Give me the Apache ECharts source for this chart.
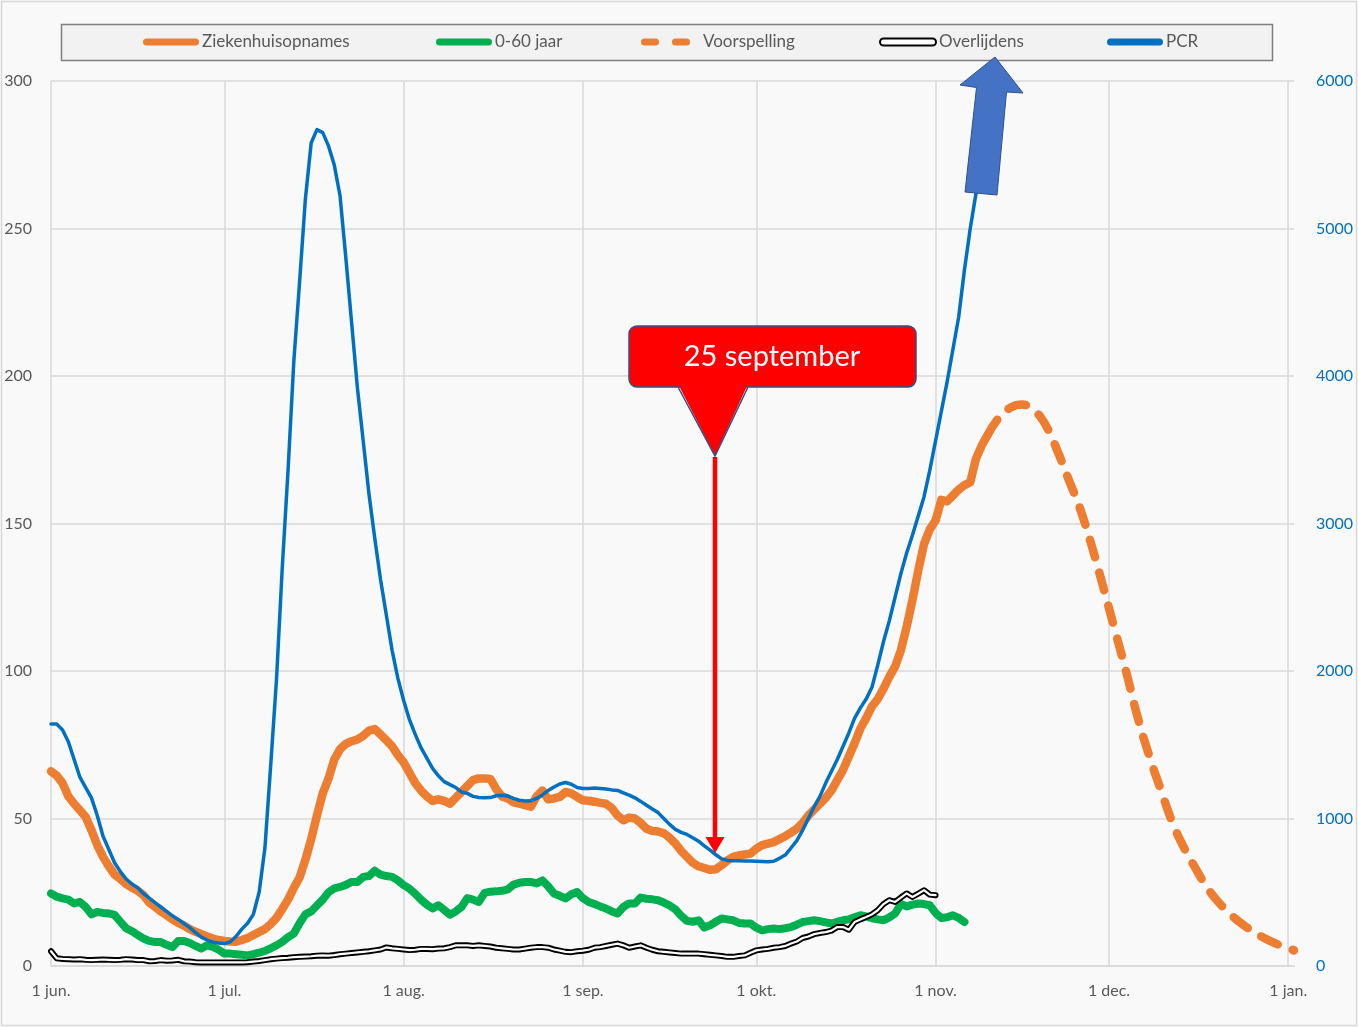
<!DOCTYPE html>
<html lang='nl'>

  <head>
    <meta charset='utf-8'>
    <title>Ziekenhuisopnames en PCR</title>
    <style>
      html, body { margin: 0; padding: 0; background: #f9f9f9; }
      #main { width: 1358px; height: 1027px; }
    </style>
  </head>

  <body>
    <div id="main"></div>

    <script src="https://cdn.jsdelivr.net/npm/echarts@6/dist/echarts.min.js"></script>
    <script>
      // dagen vanaf 1 jun. 2020 t/m 2 jan. 2021
      var categories = [];
      for (var t = Date.UTC(2020, 5, 1); t <= Date.UTC(2021, 0, 2); t += 86400000) {
        categories.push(new Date(t).toISOString().slice(0, 10));
      }
      var maandNamen = { '01': 'jan.', '06': 'jun.', '07': 'jul.', '08': 'aug.', '09': 'sep.', '10': 'okt.', '11': 'nov.', '12': 'dec.' };

      // dagwaarden vanaf 1 jun.
      var ziekenhuisopnames = [
        66, 64.5, 62, 57.5, 55, 52.8, 50.5, 46, 41, 37, 33.8, 31, 29.5, 27.8, 26.5, 25.5, 24, 21.5, 20, 18.5,
        17.2, 15.8, 14.6, 13.7, 12.5, 11.6, 10.8, 10, 9.3, 8.8, 8.5, 8.3, 8.2, 8.8, 9.5, 10.5, 11.5, 12.5, 14.2, 16.3,
        19.3, 22.5, 26.5, 30, 36, 43, 51, 58.5, 63.5, 70, 73.5, 75.3, 76.2, 76.8, 78, 79.8, 80.3, 78.5, 76.5, 74.5,
        71.5, 69, 65.5, 62, 59.5, 57.5, 56, 56.5, 56, 55, 57, 59, 61, 63, 63.6, 63.6, 63.4, 60, 57.5, 56.8,
        55.5, 55, 54.5, 54, 57.5, 59.5, 56.5, 56.8, 57.3, 59, 58.5, 57.3, 56.2, 56, 55.7, 55.3, 55, 53.5, 51, 49.4,
        50.3, 50, 48.5, 46.5, 45.8, 45.6, 45, 43.5, 41.5, 39, 37, 35, 33.8, 33.2, 32.6, 32.8, 34.2, 35.8, 37, 37.5,
        37.8, 38.1, 39.8, 41, 41.5, 42, 43, 44, 45.2, 46.5, 48.5, 51, 53, 55, 57, 59.5, 63, 66.5, 71, 75.5,
        80.5, 84, 88, 90.5, 94, 98, 101.5, 107, 115, 124, 134, 143, 148, 151, 158, 157.5, 159.5, 161.5, 163, 164,
        172, 176.5, 180
      ];
      var jongerDan60 = [
        24.6, 23.5, 22.9, 22.5, 21.2, 21.7, 20, 17.5, 18.3, 18, 17.8, 17.3, 15, 12.8, 11.8, 10.5, 9.3, 8.5, 8.1, 8.1,
        7.2, 6.4, 8.5, 8.5, 7.8, 6.8, 5.9, 7, 6.5, 5.5, 4.2, 4.2, 4, 3.8, 3.6, 4, 4.5, 5.1, 6, 7,
        8.2, 9.8, 11, 14.5, 17.5, 18.5, 20.5, 22.5, 25, 26.3, 26.8, 27.5, 28.5, 28.5, 30.2, 30.5, 32.3, 31, 30.5, 30.2,
        29, 27.4, 26.2, 24.5, 22.5, 20.8, 19.5, 20.6, 19, 17.4, 18.5, 20, 23, 22.5, 21.7, 24.8, 25.2, 25.3, 25.5, 26,
        27.6, 28.2, 28.5, 28.5, 28, 29, 27, 24.6, 23.8, 22.9, 24.3, 25.1, 23, 21.7, 21, 20.2, 19.5, 18.5, 17.8, 20,
        21.2, 21.2, 23.2, 22.8, 22.6, 22.3, 21.5, 20.5, 19.2, 17, 15.3, 15, 15.5, 13, 13.8, 15, 16.1, 15.8, 15.5, 14.6,
        14.4, 14.4, 13, 12.1, 12.5, 12.7, 12.5, 12.8, 13.2, 14, 14.9, 15.2, 15.5, 15.2, 14.8, 14.4, 15, 15.5, 15.8, 16.5,
        17.2, 16.8, 16.2, 15.8, 15.5, 16.5, 17.8, 21, 20.2, 20.8, 21.2, 21, 20.6, 18, 16.3, 16.5, 17.2, 16.3, 14.9
      ];
      var overlijdens = [
        5, 2.6, 2.4, 2.3, 2.2, 2.3, 2.1, 2, 2.1, 2.2, 2.1, 2, 2.1, 2.3, 2.2, 2, 2, 1.6, 1.7, 2,
        1.8, 1.9, 2.1, 1.6, 1.5, 1.3, 1.2, 1.2, 1.2, 1.2, 1.2, 1.2, 1.2, 1.2, 1.3, 1.5, 1.7, 2, 2.3, 2.5,
        2.7, 2.8, 3, 3.1, 3.2, 3.3, 3.5, 3.6, 3.5, 3.7, 4, 4.2, 4.4, 4.6, 4.8, 5, 5.3, 5.6, 6.3, 6,
        5.8, 5.6, 5.4, 5.5, 5.8, 5.8, 5.7, 5.9, 6, 6.4, 7, 7, 7, 6.8, 7, 6.8, 6.6, 6.2, 6, 5.8,
        5.6, 5.6, 5.9, 6.2, 6.4, 6.4, 6.2, 5.6, 5.2, 4.8, 4.7, 5, 5.2, 5.5, 6.2, 6.4, 6.8, 7.2, 7.6, 7,
        6.2, 6.6, 7, 6.2, 5.5, 5, 4.8, 4.6, 4.4, 4.2, 4.2, 4.2, 4.2, 4, 3.8, 3.6, 3.4, 3.1, 3.1, 3.4,
        3.6, 4.5, 5.3, 5.6, 5.8, 6.2, 6.4, 6.8, 7.6, 8.3, 9.5, 10, 10.8, 11.2, 11.5, 12, 13.2, 13.2, 12.3, 14.9,
        15.8, 16.6, 17.5, 18.9, 21, 22.3, 21.7, 23.2, 24.6, 23.4, 24.5, 25.7, 24.2, 24
      ];
      var pcr = [
        1640, 1640, 1600, 1520, 1400, 1280, 1210, 1140, 1020, 880, 790, 700, 640, 590, 556, 530, 490, 460, 430, 400,
        370, 340, 316, 288, 260, 226, 196, 176, 162, 156, 152, 164, 200, 250, 290, 350, 500, 800, 1360, 1940,
        2700, 3360, 4100, 4640, 5200, 5580, 5670, 5650, 5560, 5430, 5220, 4800, 4360, 3920, 3560, 3200, 2900, 2620, 2380, 2140,
        1950, 1800, 1670, 1570, 1480, 1410, 1340, 1290, 1250, 1230, 1210, 1180, 1170, 1150, 1142, 1140, 1142, 1154, 1158, 1152,
        1136, 1124, 1118, 1120, 1136, 1160, 1190, 1214, 1234, 1244, 1232, 1210, 1204, 1204, 1206, 1204, 1200, 1194, 1190, 1174,
        1158, 1140, 1116, 1090, 1064, 1040, 1000, 960, 926, 906, 892, 870, 846, 814, 786, 754, 726, 716, 714, 714,
        712, 712, 710, 708, 706, 710, 730, 752, 800, 850, 920, 1000, 1080, 1150, 1240, 1320, 1400, 1490, 1580, 1680,
        1750, 1810, 1890, 2040, 2200, 2340, 2500, 2660, 2800, 2920, 3050, 3180, 3360, 3560, 3760, 3960, 4180, 4400, 4720, 5000,
        5240
      ];
      // voorspelling: dagnummer (vanaf 1 jun.) en waarde
      var voorspellingDag = [162, 164, 166, 168, 170, 172, 174, 176, 178, 180, 182, 184, 186, 188, 190, 192, 194, 196, 198, 200, 202, 204, 206, 208, 210, 212, 214, 215];
      var voorspellingWaarde = [180, 186, 189.3, 190.3, 188.5, 183.5, 175, 165, 155, 142.5, 128.5, 114, 99.5, 84, 71, 59.5, 48.5, 40, 33, 26.5, 21.5, 17.5, 14.3, 11.6, 9.3, 7.5, 6, 5.3];

      var linksTicks = [0, 300, 50];
      var rechtsTicks = [0, 6000, 1000];

      var grijs = '#595959';
      var lijnGrijs = '#d9d9d9';
      var font = 'Lato';

      var voorspelling = voorspellingDag.map(function(d, i) {
        return [d, voorspellingWaarde[i]];
      });

      function isMaandBegin(index, value) {
        return categories[index].slice(8) === '01';
      }

      var pill = 'path://M3.5,0 L52.5,0 A3.5,3.5 0 0 1 52.5,7 L3.5,7 A3.5,3.5 0 0 1 3.5,0 Z';
      var streepjes = 'path://M3.5,0 L14.5,0 A3.5,3.5 0 0 1 14.5,7 L3.5,7 A3.5,3.5 0 0 1 3.5,0 Z M34.5,0 L45.5,0 A3.5,3.5 0 0 1 45.5,7 L34.5,7 A3.5,3.5 0 0 1 34.5,0 Z';

      function legendItem(name, left, icon, width, extra) {
        var item = { name: name, icon: icon };
        if (extra) item.itemStyle = extra;
        return {
          data: [item],
          left: left,
          top: 33,
          padding: 0,
          itemWidth: width,
          itemHeight: 7,
          selectedMode: false,
          textStyle: { color: grijs, fontSize: 17, fontFamily: font, lineHeight: 18, padding: name === 'Voorspelling' ? [0, 0, 0, 8] : [0, 0, 0, -2] }
        };
      }

      var myChart = echarts.init(document.getElementById('main'), null, { renderer: 'canvas' });

      var option = {
        backgroundColor: '#f9f9f9',
        animation: false,
        textStyle: { fontFamily: font },
        grid: { left: 51, right: 64, top: 81, bottom: 61, outerBoundsMode: 'none' },
        legend: [
          legendItem('Ziekenhuisopnames', 143, pill, 56),
          legendItem('0-60 jaar', 436, pill, 56),
          legendItem('Voorspelling', 641, streepjes, 49),
          legendItem('Overlijdens', 879, pill, 56, { color: '#ffffff', borderColor: '#000000', borderWidth: 2 }),
          legendItem('PCR', 1107, pill, 56)
        ],
        xAxis: {
          type: 'category',
          data: categories,
          boundaryGap: false,
          axisLine: { show: true, lineStyle: { color: lijnGrijs, width: 1.5 } },
          axisTick: { show: false },
          axisLabel: {
            interval: isMaandBegin,
            margin: 17,
            color: grijs,
            fontSize: 16,
            fontFamily: font,
            formatter: function(value) {
              return '1 ' + maandNamen[value.slice(5, 7)];
            }
          },
          splitLine: { show: true, interval: isMaandBegin, lineStyle: { color: lijnGrijs, width: 1.5 } }
        },
        yAxis: [{
          type: 'value',
          min: linksTicks[0],
          max: linksTicks[1],
          interval: linksTicks[2],
          axisLine: { show: false },
          axisTick: { show: false },
          axisLabel: { color: grijs, fontSize: 16, fontFamily: font, margin: 19 },
          splitLine: { show: true, lineStyle: { color: lijnGrijs, width: 1.5 } }
        }, {
          type: 'value',
          position: 'right',
          min: rechtsTicks[0],
          max: rechtsTicks[1],
          interval: rechtsTicks[2],
          axisLine: { show: false },
          axisTick: { show: false },
          axisLabel: {
            color: '#0070c0', fontSize: 16, fontFamily: font, margin: 22,
            formatter: function(v) { return String(v); }
          },
          splitLine: { show: false }
        }],
        series: [{
          name: 'Ziekenhuisopnames',
          type: 'line',
          data: ziekenhuisopnames,
          color: '#ed7d31',
          symbol: 'none',
          lineStyle: { width: 8.5, cap: 'round', join: 'round' },
          z: 2
        }, {
          name: '0-60 jaar',
          type: 'line',
          data: jongerDan60,
          color: '#00b050',
          symbol: 'none',
          lineStyle: { width: 8, cap: 'round', join: 'round' },
          z: 3
        }, {
          name: 'Voorspelling',
          type: 'line',
          data: voorspelling,
          color: '#ed7d31',
          symbol: 'none',
          smooth: 0.4,
          lineStyle: { width: 8.5, type: [18, 16], cap: 'round', join: 'round' },
          z: 4
        }, {
          name: 'Overlijdens',
          type: 'line',
          data: overlijdens,
          color: '#000000',
          symbol: 'none',
          lineStyle: { width: 6, cap: 'round', join: 'round' },
          z: 5
        }, {
          name: 'overlijdens-binnen',
          type: 'line',
          data: overlijdens,
          color: '#ffffff',
          symbol: 'none',
          lineStyle: { width: 2.2, cap: 'round', join: 'round' },
          z: 6
        }, {
          name: 'PCR',
          type: 'line',
          yAxisIndex: 1,
          data: pcr,
          color: '#0070c0',
          symbol: 'none',
          lineStyle: { width: 3.5, cap: 'round', join: 'round' },
          z: 7
        }],
        graphic: [
          // kader rond de grafiek
          { type: 'rect', z: 0, shape: { x: 1.5, y: 1.5, width: 1355, height: 1024 }, style: { fill: null, stroke: lijnGrijs, lineWidth: 1.5 } },
          // legendakader
          { type: 'rect', z: 1, shape: { x: 61.5, y: 24.5, width: 1211, height: 36 }, style: { fill: '#f2f2f2', stroke: '#7f7f7f', lineWidth: 1.5 } },
          // ballon 25 september
          { type: 'rect', z: 100, shape: { x: 629, y: 326, width: 287, height: 61, r: 8 }, style: { fill: '#ff0000', stroke: '#2f528f', lineWidth: 1.5 } },
          { type: 'polygon', z: 101, shape: { points: [[678, 384], [748, 384], [715, 456]] }, style: { fill: '#ff0000' } },
          { type: 'polyline', z: 102, shape: { points: [[678, 387], [715, 456], [748, 387]] }, style: { fill: null, stroke: '#2f528f', lineWidth: 1.5 } },
          { type: 'text', z: 103, style: { x: 772, y: 357, text: '25 september', fill: '#ffffff', font: '29px Lato', align: 'center', verticalAlign: 'middle' } },
          { type: 'line', z: 100, shape: { x1: 715, y1: 457, x2: 715, y2: 840 }, style: { stroke: '#ff0000', lineWidth: 4.5 } },
          { type: 'polygon', z: 100, shape: { points: [[705.5, 837], [724.5, 837], [715, 853]] }, style: { fill: '#ff0000' } },
          // blauwe pijl
          {
            type: 'polygon', z: 100,
            shape: { points: [[965, 192], [997, 195], [1006.5, 92], [1023, 93], [995, 57], [960, 85], [976.5, 87.5]] },
            style: { fill: '#4472c4', stroke: '#2f528f', lineWidth: 1 }
          }
        ]
      };

      myChart.setOption(option);
    </script>

  </body>

</html>
